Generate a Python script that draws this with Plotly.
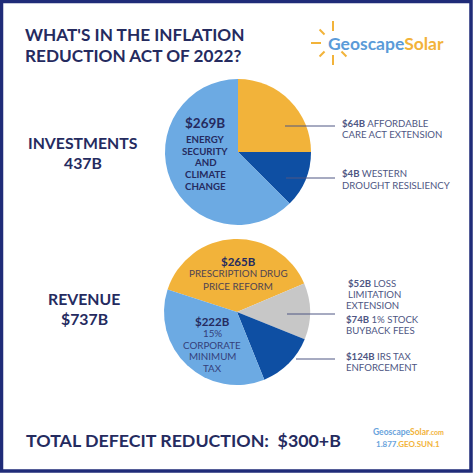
import plotly.graph_objects as go
import math

W = H = 474

# ---- data ----
inv_names = ["Affordable Care Act Extension", "Western Drought Resiliency", "Energy Security and Climate Change"]
inv_amounts = ["$64B", "$4B", "$269B"]
inv_shares = [25.0, 12.5, 62.5]          # slice shares as drawn in the picture (%)
inv_colors = ["#F2B33A", "#0E4FA3", "#6CAAE3"]

rev_names = ["Prescription Drug Price Reform", "Loss Limitation / Stock Buyback", "IRS Tax Enforcement", "15% Corporate Minimum Tax"]
rev_amounts = ["$265B", "$52B + $74B", "$124B", "$222B"]
rev_shares = [38.6, 12.5, 12.8, 36.1]    # slice shares as drawn in the picture (%)
rev_colors = ["#F2B33A", "#C7C7C7", "#0E4FA3", "#6CAAE3"]

NAVY = "#252B5F"
SOFT = "#4E5683"
FONT = "Lato"


def px(x):
    return x / W


def py(y):
    return 1 - y / H


fig = go.Figure()

fig.add_trace(go.Pie(
    values=inv_shares, labels=inv_names, marker=dict(colors=inv_colors, line=dict(width=0)),
    sort=False, direction="clockwise", rotation=0, textinfo="none", hoverinfo="label",
    domain=dict(x=[px(165), px(311)], y=[py(225), py(79)]), showlegend=False,
))
fig.add_trace(go.Pie(
    values=rev_shares, labels=rev_names, marker=dict(colors=rev_colors, line=dict(width=0)),
    sort=False, direction="clockwise", rotation=288, textinfo="none", hoverinfo="label",
    domain=dict(x=[px(164), px(310)], y=[py(385), py(239)]), showlegend=False,
))

ann = []


def text(x, y, t, size, color=NAVY, xanchor="left", family=FONT, align="left"):
    ann.append(dict(x=px(x), y=py(y), xref="paper", yref="paper", text=t, showarrow=False,
                    xanchor=xanchor, yanchor="middle", align=align,
                    font=dict(family=family, size=size, color=color)))


# title
text(23, 34, "<b>WHAT'S IN THE INFLATION</b>", 17.2)
text(23, 55, "<b>REDUCTION ACT OF 2022?</b>", 17.2)

# logo
text(326, 43, "<b><span style='color:#5B9BD8'>Geoscape</span><span style='color:#F2B33A'>Solar</span></b>", 17.5)

# section titles
text(83, 142, "<b>INVESTMENTS</b>", 15.8, xanchor="center")
text(83, 162, "<b>437B</b>", 15.8, xanchor="center")
text(84, 298, "<b>REVENUE</b>", 15.8, xanchor="center")
text(84, 318, "<b>$737B</b>", 15.8, xanchor="center")

# top pie inner text
text(205, 123, "<b>" + inv_amounts[2] + "</b>", 13.5, xanchor="center")
for i, w in enumerate(["ENERGY", "SECURITY", "AND", "CLIMATE", "CHANGE"]):
    text(205, 139 + i * 11.7, "<b>" + w + "</b>", 9.7, xanchor="center")

# top right labels
LS = 9.6
text(340, 123, "<b>" + inv_amounts[0] + "</b> AFFORDABLE", LS, color=SOFT)
text(340, 134, "CARE ACT EXTENSION", LS, color=SOFT)
text(340, 174, "<b>" + inv_amounts[1] + "</b> WESTERN", LS, color=SOFT)
text(340, 185, "DROUGHT RESISLIENCY", LS, color=SOFT)

# bottom pie inner text
text(238, 261, "<b>" + rev_amounts[0] + "</b>", 11.5, xanchor="center")
text(238, 273, "PRESCRIPTION DRUG", 9.8, color="#4F4352", xanchor="center")
text(238, 286, "PRICE REFORM", 9.8, color="#4F4352", xanchor="center")
text(212, 321, "<b>" + rev_amounts[3] + "</b>", 11.5, xanchor="center")
for i, w in enumerate(["15%", "CORPORATE", "MINIMUM", "TAX"]):
    text(212, 333 + i * 11.7, w, 9.8, color="#34407A", xanchor="center")

# bottom right labels
text(346, 283, "<b>$52B</b> LOSS", LS, color=SOFT)
text(346, 294, "LIMITATION", LS, color=SOFT)
text(344, 305, "EXTENSION", LS, color=SOFT)
text(344, 319, "<b>$74B</b> 1% STOCK", LS, color=SOFT)
text(344, 330, "BUYBACK FEES", LS, color=SOFT)
text(344, 356, "<b>" + rev_amounts[2] + "</b> IRS TAX", LS, color=SOFT)
text(344, 367, "ENFORCEMENT", LS, color=SOFT)

# bottom line
text(24, 440, "<b>TOTAL DEFECIT REDUCTION:  $300+B</b>", 17.8)
text(408, 432, "<b><span style='color:#6AA3DC'>Geoscape</span><span style='color:#F2B33A'>Solar</span><span style='color:#F2B33A;font-size:7px'>.com</span></b>", 8.5, xanchor="center")
text(408, 444, "<b><span style='color:#6AA3DC'>1.877.</span><span style='color:#F2B33A'>GEO.SUN.1</span></b>", 8, xanchor="center")

shapes = []
# frame
shapes.append(dict(type="rect", xref="paper", yref="paper", x0=px(1.5), x1=px(471), y0=py(471), y1=py(1.5),
                   line=dict(color="#1F2B78", width=3.5)))
# leader lines
for (x0, x1, y) in [(285, 335, 126), (286, 335, 178), (287, 335, 314), (296, 335, 359)]:
    shapes.append(dict(type="line", xref="paper", yref="paper", x0=px(x0), x1=px(x1), y0=py(y), y1=py(y),
                       line=dict(color="#4E5683", width=1)))
# sun rays of the logo
cx, cy = 333, 43
for ang in [90, 135, 180, 225, 270, 315]:
    a = math.radians(ang)
    r0, r1 = 12, 22 if ang in (90, 270, 180) else 19
    shapes.append(dict(type="line", xref="paper", yref="paper",
                       x0=px(cx + r0 * math.cos(a)), x1=px(cx + r1 * math.cos(a)),
                       y0=py(cy - r0 * math.sin(a)), y1=py(cy - r1 * math.sin(a)),
                       line=dict(color="#F2B33A", width=2)))

fig.update_layout(width=W, height=H, margin=dict(l=0, r=0, t=0, b=0),
                  paper_bgcolor="white", plot_bgcolor="white",
                  annotations=ann, shapes=shapes, showlegend=False)

fig.write_html("out.html", config={"displayModeBar": False},
               post_script="document.body.style.margin='0';document.body.style.overflow='hidden';")
